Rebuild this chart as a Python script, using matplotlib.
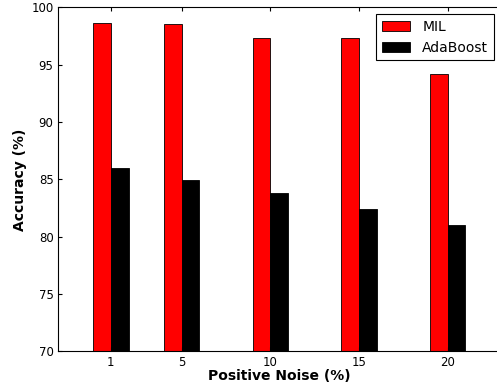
import matplotlib
matplotlib.use("Agg")
import matplotlib.pyplot as plt

noise = [1, 5, 10, 15, 20]
mil = [98.66, 98.55, 97.36, 97.36, 94.21]
adaboost = [85.99, 84.97, 83.78, 82.39, 81.02]

fig = plt.figure(figsize=(4.97, 3.87), dpi=100)
# axes runs slightly past the right edge, as in the cropped original
ax = fig.add_axes([0.1161, 0.092, 0.8913, 0.8893])

ax.bar([x - 1 for x in noise], mil, width=1, align="edge",
       color="red", edgecolor="black", linewidth=0.6, label="MIL")
ax.bar(noise, adaboost, width=1, align="edge",
       color="black", edgecolor="black", linewidth=0.6, label="AdaBoost")

ax.set_xlim(-2, 23)
ax.set_ylim(70, 100)
ax.set_xticks(noise)
ax.set_yticks(range(70, 101, 5))
ax.tick_params(direction="in", top=True, right=True, length=3, labelsize=8.5, pad=3)

ax.set_xlabel("Positive Noise (%)", fontsize=10, fontweight="bold", labelpad=0)
ax.set_ylabel("Accuracy (%)", fontsize=10, fontweight="bold", labelpad=3)

leg = ax.legend(loc="upper right", fontsize=10, fancybox=False, framealpha=1,
                handletextpad=0.9)
leg.get_frame().set_edgecolor("black")
leg.get_frame().set_linewidth(0.8)

fig.savefig("out.png", dpi=100)
